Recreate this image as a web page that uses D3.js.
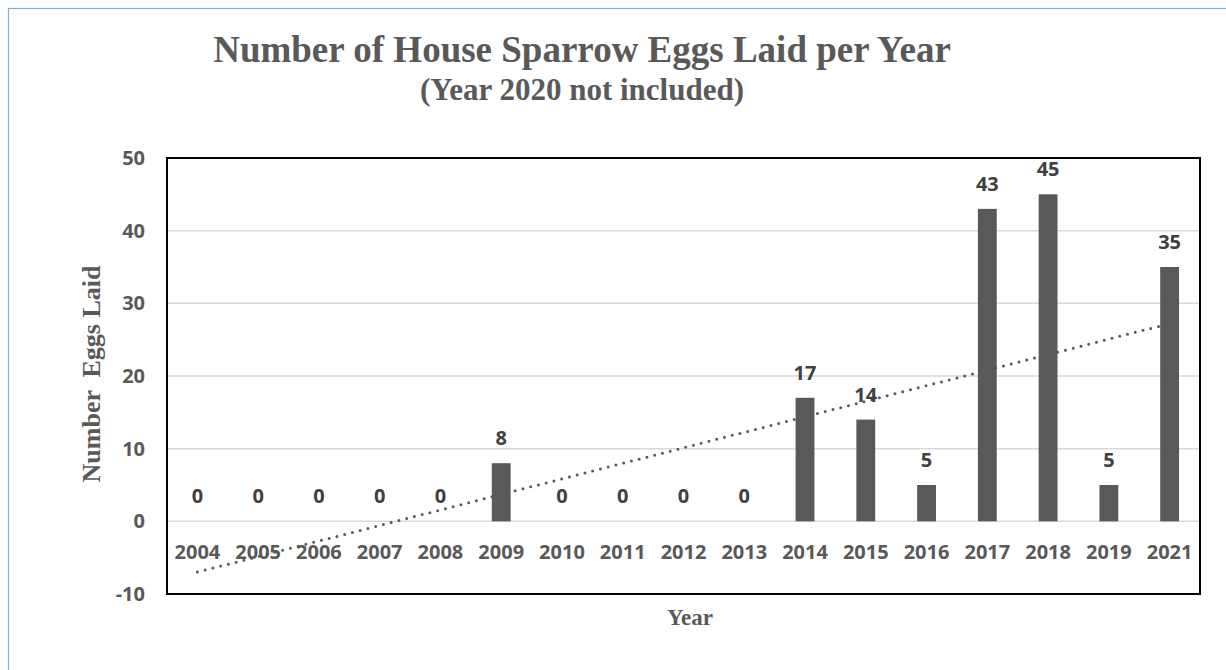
<!DOCTYPE html>
<html lang="en">
<head>
    <meta charset="utf-8">
    <title>House Sparrow Eggs</title>
    <script type="text/javascript" src="https://d3js.org/d3.v7.min.js"></script>
    <style type="text/css">
        body { margin: 0; background: #fff; }
        svg { display: block; }
    </style>
</head>
<body>
    <script type="text/javascript">

        const years = ["2004", "2005", "2006", "2007", "2008", "2009", "2010", "2011", "2012",
                       "2013", "2014", "2015", "2016", "2017", "2018", "2019", "2021"];
        const eggs = [0, 0, 0, 0, 0, 8, 0, 0, 0, 0, 17, 14, 5, 43, 45, 5, 35];
        const yTicks = [-10, 0, 10, 20, 30, 40, 50];

        const data = years.map((y, i) => ({ year: y, value: eggs[i] }));

        const width = 1226;
        const height = 670;
        const plot = { left: 167, right: 1200, top: 158, bottom: 594 };
        const grey = "#595959";
        const sans = "'Open Sans', sans-serif";
        const serif = "'Liberation Serif', 'Times New Roman', serif";

        const svg = d3.select("body")
            .append("svg")
            .attr("width", width)
            .attr("height", height);

        // outer chart border (only top/left visible)
        svg.append("rect")
            .attr("x", 8.5).attr("y", 8.5)
            .attr("width", width + 20).attr("height", height + 20)
            .attr("fill", "none")
            .attr("stroke", "#8eaadb")
            .attr("stroke-width", 1.2);

        // Scales
        const xScale = d3.scaleBand()
            .domain(years)
            .range([plot.left, plot.right])
            .paddingInner(0.69)
            .paddingOuter(0.345);

        const yScale = d3.scaleLinear()
            .domain([-10, 50])
            .range([plot.bottom, plot.top]);

        // gridlines
        svg.append("g")
            .selectAll("line")
            .data(yTicks.filter(t => t > -10 && t < 50))
            .enter()
            .append("line")
            .attr("x1", plot.left).attr("x2", plot.right)
            .attr("y1", d => yScale(d)).attr("y2", d => yScale(d))
            .attr("stroke", "#d9d9d9")
            .attr("stroke-width", 1.5);

        // y axis labels
        const yAxis = d3.axisLeft(yScale).tickValues(yTicks).tickFormat(d => String(d))
            .tickSize(0).tickPadding(22);
        const gy = svg.append("g")
            .attr("transform", `translate(${plot.left},0)`)
            .call(yAxis);
        gy.select(".domain").remove();
        gy.selectAll("text")
            .attr("font-family", sans)
            .attr("font-weight", "bold")
            .attr("font-size", 20)
            .attr("fill", grey);

        // x axis labels (sit just under the 0 line)
        const xAxis = d3.axisBottom(xScale).tickSize(0).tickPadding(23);
        const gx = svg.append("g")
            .attr("transform", `translate(0,${yScale(0)})`)
            .call(xAxis);
        gx.select(".domain").remove();
        gx.selectAll("text")
            .attr("font-family", sans)
            .attr("font-weight", "bold")
            .attr("font-size", 20)
            .attr("fill", grey);

        // Bars
        svg.selectAll("rect.bar")
            .data(data)
            .enter()
            .append("rect")
            .attr("class", "bar")
            .attr("x", d => xScale(d.year))
            .attr("y", d => yScale(d.value))
            .attr("width", xScale.bandwidth())
            .attr("height", d => yScale(0) - yScale(d.value))
            .attr("fill", grey);

        // linear trendline (least squares over category index)
        const n = eggs.length;
        const xs = eggs.map((_, i) => i + 1);
        const mx = d3.mean(xs), my = d3.mean(eggs);
        const slope = d3.sum(xs, (x, i) => (x - mx) * (eggs[i] - my)) / d3.sum(xs, x => (x - mx) ** 2);
        const intercept = my - slope * mx;
        const trend = [years[0], years[n - 1]].map((y, k) => {
            const xi = k === 0 ? 1 : n;
            return { year: y, value: intercept + slope * xi };
        });
        const cx = d => xScale(d.year) + xScale.bandwidth() / 2;
        svg.append("path")
            .datum(trend)
            .attr("d", d3.line().x(cx).y(d => yScale(d.value)))
            .attr("fill", "none")
            .attr("stroke", grey)
            .attr("stroke-width", 3)
            .attr("stroke-linecap", "round")
            .attr("stroke-dasharray", "0 8");

        // data labels
        svg.selectAll("text.lbl")
            .data(data)
            .enter()
            .append("text")
            .attr("class", "lbl")
            .attr("x", cx)
            .attr("y", d => yScale(d.value) - 18)
            .attr("text-anchor", "middle")
            .attr("font-family", sans)
            .attr("font-weight", "bold")
            .attr("font-size", 20)
            .attr("fill", "#404040")
            .text(d => d.value);

        // plot frame
        svg.append("rect")
            .attr("x", plot.left).attr("y", plot.top)
            .attr("width", plot.right - plot.left)
            .attr("height", plot.bottom - plot.top)
            .attr("fill", "none")
            .attr("stroke", "#000")
            .attr("stroke-width", 2);

        // titles
        svg.append("text")
            .attr("x", 582).attr("y", 62)
            .attr("text-anchor", "middle")
            .attr("font-family", serif)
            .attr("font-weight", "bold")
            .attr("font-size", 37)
            .attr("fill", grey)
            .text("Number of House Sparrow Eggs Laid per Year");

        svg.append("text")
            .attr("x", 582).attr("y", 100)
            .attr("text-anchor", "middle")
            .attr("font-family", serif)
            .attr("font-weight", "bold")
            .attr("font-size", 31)
            .attr("fill", grey)
            .text("(Year 2020 not included)");

        svg.append("text")
            .attr("x", 690)
            .attr("y", 625)
            .attr("text-anchor", "middle")
            .attr("font-family", serif)
            .attr("font-weight", "bold")
            .attr("font-size", 23)
            .attr("fill", grey)
            .text("Year");

        svg.append("text")
            .attr("transform", "rotate(-90)")
            .attr("x", -374)
            .attr("y", 100)
            .attr("text-anchor", "middle")
            .attr("font-family", serif)
            .attr("font-weight", "bold")
            .attr("font-size", 26)
            .attr("fill", grey)
            .style("white-space", "pre")
            .text("Number  Eggs Laid");
    </script>
</body>
</html>
